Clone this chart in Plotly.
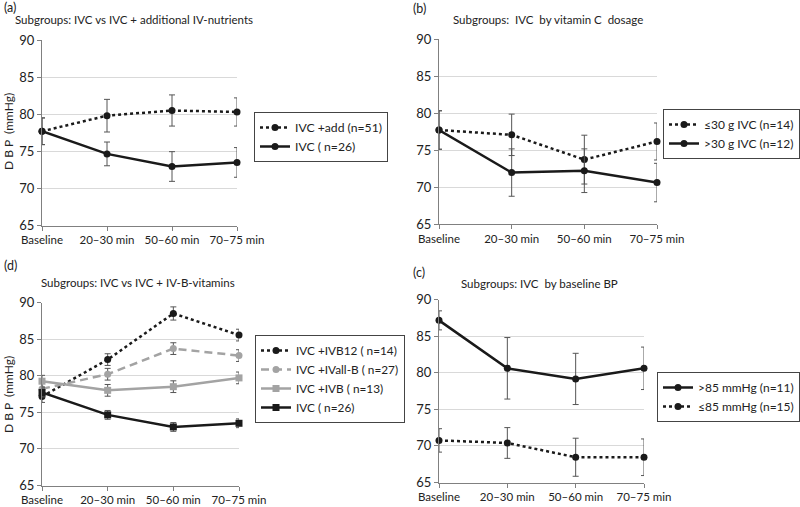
import plotly.graph_objects as go

W, H = 800, 507
FONT = "Lato"

categories = ["Baseline", "20\u201330 min", "50\u201360 min", "70\u201375 min"]

# Panel (a)
a_add = [77.7, 79.8, 80.5, 80.3]
a_add_err = [1.8, 2.2, 2.1, 1.9]
a_ivc = [77.7, 74.65, 72.95, 73.5]
a_ivc_err = [1.8, 1.6, 2.0, 2.0]

# Panel (b)
b_low = [77.7, 77.05, 73.7, 76.15]
b_low_err = [2.6, 2.8, 3.3, 2.5]
b_high = [77.7, 71.95, 72.2, 70.6]
b_high_err = [2.6, 3.2, 2.95, 2.6]

# Panel (d)
d_b12 = [77.15, 82.2, 88.5, 85.55]
d_b12_err = [0.8, 0.8, 0.9, 0.8]
d_allb = [78.2, 80.2, 83.7, 82.75]
d_allb_err = [0.8, 0.8, 0.8, 0.8]
d_ivb = [79.25, 78.0, 78.5, 79.7]
d_ivb_err = [0.8, 0.8, 0.8, 0.8]
d_ivc = [77.7, 74.65, 73.0, 73.5]
d_ivc_err = [0.6, 0.6, 0.6, 0.6]

# Panel (c)
c_high = [87.15, 80.6, 79.15, 80.6]
c_high_err = [1.3, 4.2, 3.5, 2.9]
c_low = [70.75, 70.4, 68.45, 68.45]
c_low_err = [1.6, 2.1, 2.6, 2.5]

BLACK = "#1a1a1a"
GRAY = "#a3a3a3"
ERR = "#555555"


def px_x(x):
    return x / W


def px_y(y):
    return 1 - y / H


fig = go.Figure()

panels = {
    # name: (x0, x1, ytop, ybottom) in pixels
    "a": (42, 237, 40, 225.5),
    "b": (439, 657, 39, 224),
    "d": (42, 239, 302.5, 485.5),
    "c": (439, 644, 299.5, 482.5),
}
axis_ids = {"a": ("x", "y", "xaxis", "yaxis"),
            "b": ("x2", "y2", "xaxis2", "yaxis2"),
            "d": ("x3", "y3", "xaxis3", "yaxis3"),
            "c": ("x4", "y4", "xaxis4", "yaxis4")}
legend_ids = {"a": "legend", "b": "legend2", "d": "legend3", "c": "legend4"}

xs = list(range(len(categories)))


def add(panel, name, y, err, color, dash, symbol, msize=7, width=2.5):
    xa, ya, _, _ = axis_ids[panel]
    fig.add_trace(go.Scatter(
        x=xs, y=y, name=name, mode="lines+markers",
        xaxis=xa, yaxis=ya, legend=legend_ids[panel],
        line=dict(color=color, width=width, dash=dash),
        marker=dict(color=color, size=msize, symbol=symbol),
        error_y=dict(type="data", array=err, visible=True,
                     color=ERR, thickness=1, width=3),
        cliponaxis=False,
    ))


add("a", "IVC +add (n=51)", a_add, a_add_err, BLACK, "dot", "circle")
add("a", "IVC ( n=26)", a_ivc, a_ivc_err, BLACK, "solid", "circle")

add("b", "\u226430 g IVC (n=14)", b_low, b_low_err, BLACK, "dot", "circle")
add("b", ">30 g IVC (n=12)", b_high, b_high_err, BLACK, "solid", "circle")

add("d", "IVC +IVB12 ( n=14)", d_b12, d_b12_err, BLACK, "dot", "circle")
add("d", "IVC +IVall-B ( n=27)", d_allb, d_allb_err, GRAY, "8px,5px", "circle")
add("d", "IVC +IVB ( n=13)", d_ivb, d_ivb_err, GRAY, "solid", "square")
add("d", "IVC ( n=26)", d_ivc, d_ivc_err, BLACK, "solid", "square")

add("c", ">85 mmHg (n=11)", c_high, c_high_err, BLACK, "solid", "circle")
add("c", "\u226485 mmHg (n=15)", c_low, c_low_err, BLACK, "dot", "circle")

layout = dict(
    width=W, height=H,
    margin=dict(l=0, r=0, t=0, b=0, autoexpand=False),
    paper_bgcolor="white", plot_bgcolor="white",
    font=dict(family=FONT, size=12, color="#222222"),
    showlegend=True,
)

for p, (x0, x1, yt, yb) in panels.items():
    xa, ya, xk, yk = axis_ids[p]
    layout[xk] = dict(
        domain=[px_x(x0), px_x(x1)], anchor=ya, range=[0, 3],
        tickvals=xs, ticktext=categories, showgrid=False, zeroline=False,
        showline=True, linecolor="#808080", linewidth=1,
        ticks="outside", ticklen=4, tickcolor="#808080", tickangle=0,
        automargin=False,
        tickfont=dict(size=11.5, color="#222222"),
    )
    layout[yk] = dict(
        domain=[px_y(yb), px_y(yt)], anchor=xa, range=[65, 90],
        dtick=5, tick0=65, showgrid=True, gridcolor="#d9d9d9", gridwidth=1,
        zeroline=False, showline=True, linecolor="#808080", linewidth=1,
        ticks="outside", ticklen=4, tickcolor="#808080", automargin=False,
        tickfont=dict(size=13, color="#222222"),
    )

legend_pos = {
    "legend": (254, 112, 12.2),
    "legend2": (663, 109, 12),
    "legend3": (255, 335, 11.8),
    "legend4": (657, 372, 12),
}
for lk, (lx, ly, fs) in legend_pos.items():
    layout[lk] = dict(
        x=px_x(lx), y=px_y(ly), xanchor="left", yanchor="top",
        bordercolor="#444444", borderwidth=1, bgcolor="white",
        font=dict(family=FONT, size=fs, color="#222222"),
        traceorder="normal", tracegroupgap=0,
    )

fig.update_layout(**layout)

annots = [
    ("(a)", 2, 8, 12.5),
    ("Subgroups: IVC vs IVC + additional IV-nutrients", 13, 20, 11.5),
    ("(b)", 411, 9, 12.5),
    ("Subgroups:  IVC  by vitamin C  dosage", 451, 20, 11.5),
    ("(d)", 2, 265, 12.5),
    ("Subgroups: IVC vs IVC + IV-B-vitamins", 39, 282, 11.5),
    ("(c)", 411, 272, 12.5),
    ("Subgroups: IVC  by baseline BP", 459, 283, 11.5),
]
for text, x, y, size in annots:
    fig.add_annotation(text=text, x=px_x(x), y=px_y(y), xref="paper", yref="paper",
                       xanchor="left", yanchor="middle", showarrow=False,
                       font=dict(family=FONT, size=size, color="#222222"))

for y in (132, 395):
    fig.add_annotation(text="D B P  (mmHg)", x=px_x(8), y=px_y(y), xref="paper", yref="paper",
                       xanchor="center", yanchor="middle", showarrow=False, textangle=-90,
                       font=dict(family=FONT, size=12, color="#222222"))

fig.write_html("out.html",
               config={"displayModeBar": False},
               post_script="document.body.style.margin='0';document.body.style.overflow='hidden';")
